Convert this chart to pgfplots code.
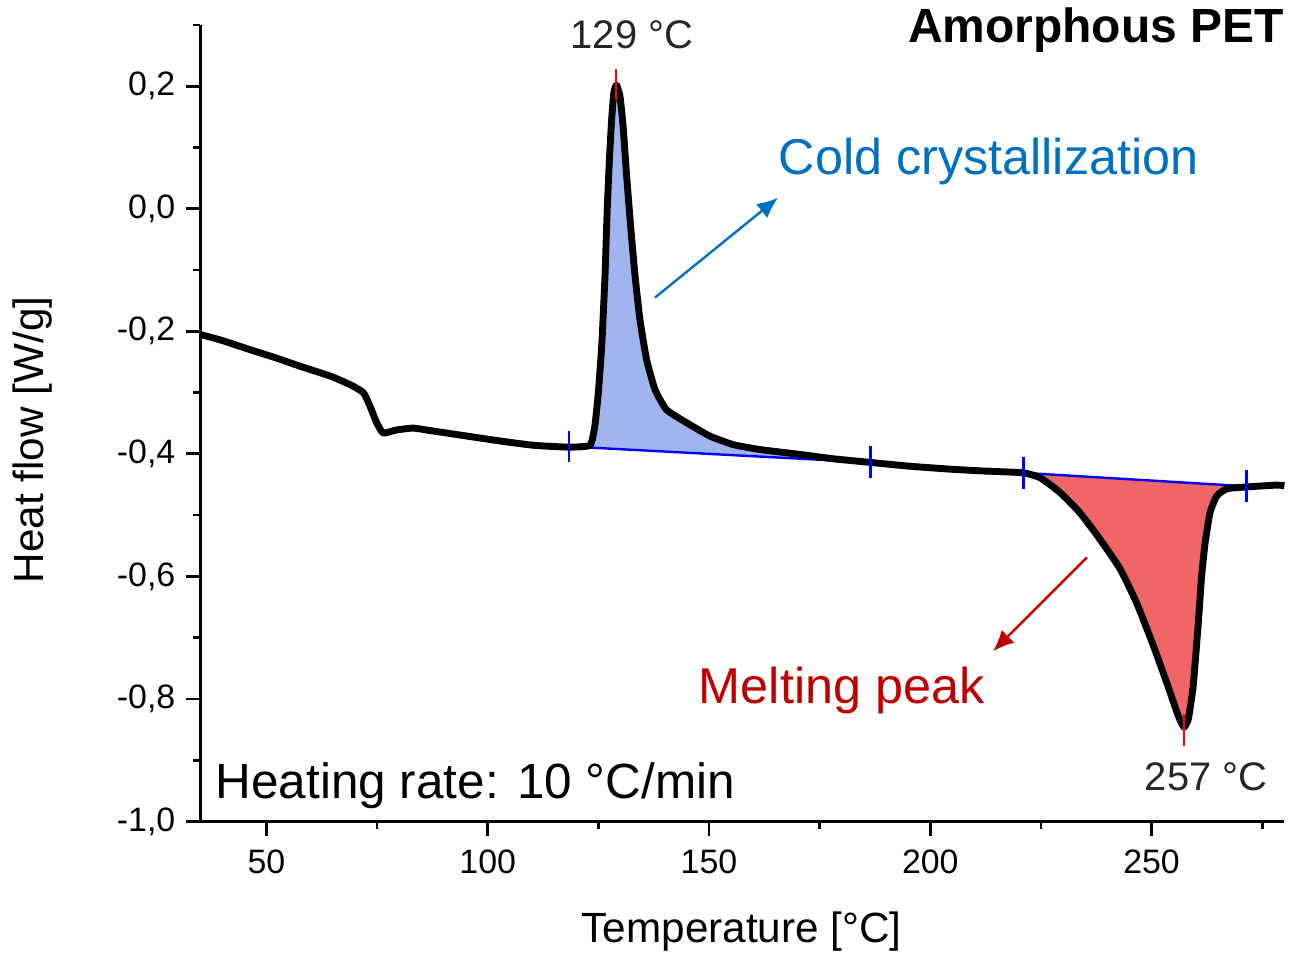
\documentclass[border=0pt]{standalone}
\usepackage{fontspec}
\setmainfont{Liberation Sans}
\usepackage{pgfplots}
\pgfplotsset{compat=1.18}
\usetikzlibrary{arrows.meta}

\definecolor{cryfill}{RGB}{160,180,240}
\definecolor{meltfill}{RGB}{240,102,102}
\definecolor{annblue}{RGB}{0,112,192}
\definecolor{annred}{RGB}{192,0,0}

\begin{document}
\begin{tikzpicture}
\begin{axis}[
    scale only axis,
    width=361.7pt, height=265.7pt,
    xmin=35, xmax=280, ymin=-1.0, ymax=0.3,
    axis lines*=left,
    axis line style={line width=1pt},
    xtick={50,100,150,200,250},
    ytick={-1,-0.8,-0.6,-0.4,-0.2,0,0.2},
    minor xtick={75,125,175,225,275},
    minor ytick={-0.9,-0.7,-0.5,-0.3,-0.1,0.1,0.3},
    tick align=outside,
    major tick length=4.7pt, minor tick length=2.5pt,
    every tick/.style={line width=0.9pt, black},
    ticklabel style={font=\fontsize{11.3}{13}\selectfont},
    xticklabel style={yshift=-1.2pt},
    /pgf/number format/assume math mode=true,
    yticklabel style={/pgf/number format/.cd, use comma, fixed, fixed zerofill, precision=1},
    xlabel={Temperature [°C]},
    ylabel={Heat flow [W/g]},
    xlabel style={font=\fontsize{14.1}{16}\selectfont, at={(axis description cs:0.4995,-0.138)}, anchor=center},
    ylabel style={font=\fontsize{14.1}{16}\selectfont, at={(axis description cs:-0.154,0.479)}, anchor=center},
    clip=false,
]
% frame of the reference picture
\path (axis cs:-10.19,0.3407) rectangle (axis cs:281.5,-1.2175);

% cold crystallization area
\addplot[draw=none, fill=cryfill, smooth, tension=0.3] coordinates {
    (118.4,-0.388)(123.1,-0.386)(124.2,-0.355)(125.0,-0.300)(125.8,-0.219)
    (126.5,-0.110)(127.0,-0.002)(127.5,0.080)(128.0,0.145)(128.5,0.189)
    (129.1,0.202)(129.9,0.183)(130.6,0.134)(131.4,0.053)(132.3,-0.029)
    (133.3,-0.110)(134.4,-0.181)(135.9,-0.246)(137.8,-0.295)(140.4,-0.328)
    (144.9,-0.349)(150.2,-0.371)(155.5,-0.385)(161.5,-0.393)(170.6,-0.401)
    (178,-0.408)(186.5,-0.414)
} --cycle;

% melting area
\addplot[draw=none, fill=meltfill, smooth, tension=0.3] coordinates {
    (221.0,-0.431)(224.8,-0.439)(229.3,-0.463)(233.8,-0.496)(238.3,-0.539)
    (242.9,-0.588)(246.6,-0.643)(250.4,-0.713)(253.4,-0.773)(256.0,-0.827)
    (257.3,-0.846)(258.3,-0.833)(259.4,-0.779)(260.5,-0.681)(261.3,-0.600)
    (262.1,-0.545)(263.2,-0.496)(264.7,-0.469)(267.0,-0.457)(271.5,-0.453)
} --cycle;

% baselines
\addplot[blue, line width=0.8pt] coordinates {
    (118.4,-0.388)(186.5,-0.414)(204.5,-0.425)(221.0,-0.431)(271.5,-0.453)
};

% DSC curve
\addplot[black, line width=2.3pt, line join=round, smooth, tension=0.3] coordinates {
    (35,-0.205)(40,-0.215)(46.3,-0.230)(52,-0.243)(57.6,-0.257)
    (64.4,-0.273)(68.9,-0.287)(71.9,-0.300)(73.4,-0.322)(74.9,-0.349)
    (76.4,-0.366)(79.4,-0.361)(83.2,-0.358)(87.0,-0.362)(90.7,-0.366)
    (95.3,-0.371)(102.8,-0.379)(110.3,-0.386)(118.2,-0.389)(123.1,-0.386)
    (124.2,-0.355)(125.0,-0.300)(125.8,-0.219)(126.5,-0.110)(127.0,-0.002)
    (127.5,0.080)(128.0,0.145)(128.5,0.189)(129.1,0.202)(129.9,0.183)
    (130.6,0.134)(131.4,0.053)(132.3,-0.029)(133.3,-0.110)(134.4,-0.181)
    (135.9,-0.246)(137.8,-0.295)(140.4,-0.328)(144.9,-0.349)(150.2,-0.371)
    (155.5,-0.385)(161.5,-0.393)(170.6,-0.401)(178,-0.408)(186.5,-0.414)
    (195,-0.420)(204.5,-0.425)(212,-0.428)(221.0,-0.431)(224.8,-0.439)
    (229.3,-0.463)(233.8,-0.496)(238.3,-0.539)(242.9,-0.588)(246.6,-0.643)
    (250.4,-0.713)(253.4,-0.773)(256.0,-0.827)(257.3,-0.846)(258.3,-0.833)
    (259.4,-0.779)(260.5,-0.681)(261.3,-0.600)(262.1,-0.545)(263.2,-0.496)
    (264.7,-0.469)(267.0,-0.457)(271.5,-0.454)(278.3,-0.451)(280,-0.452)
};

% integration limits
\addplot[blue, line width=0.9pt] coordinates {(118.4,-0.362)(118.4,-0.414)};
\addplot[blue, line width=0.9pt] coordinates {(186.5,-0.388)(186.5,-0.440)};
\addplot[blue, line width=0.9pt] coordinates {(221.0,-0.405)(221.0,-0.457)};
\addplot[blue, line width=0.9pt] coordinates {(271.5,-0.427)(271.5,-0.479)};

% peak markers
\addplot[red, line width=0.7pt] coordinates {(129.0,0.228)(129.0,0.178)};
\addplot[red, line width=0.7pt] coordinates {(257.3,-0.825)(257.3,-0.877)};

% annotations
\node[font=\fontsize{13.3}{15}\selectfont, text=black!85] at (axis cs:132.6,0.284) {129 °C};
\node[font=\fontsize{13.3}{15}\selectfont, text=black!85] at (axis cs:262.3,-0.927) {257 °C};
\node[font=\fontsize{16.5}{19}\selectfont, anchor=west, inner sep=0pt] at (axis cs:38.4,-0.942) {Heating rate: 10 °C/min};
\node[font=\bfseries\fontsize{16}{19}\selectfont, anchor=east, inner sep=0pt] at (axis cs:280,0.292) {Amorphous PET};

\draw[annblue, line width=0.8pt, -{Latex[length=7pt, width=6pt]}] (axis cs:137.8,-0.145) -- (axis cs:165.6,0.018);
\node[font=\fontsize{16.8}{19}\selectfont, text=annblue, anchor=west, inner sep=0pt] at (axis cs:165.6,0.077) {Cold crystallization};

\draw[annred, line width=0.8pt, -{Latex[length=7pt, width=6pt]}] (axis cs:235.4,-0.569) -- (axis cs:214.2,-0.722);
\node[font=\fontsize{16.8}{19}\selectfont, text=annred, anchor=center, inner sep=0pt] at (axis cs:180,-0.787) {Melting peak};
\end{axis}
\end{tikzpicture}
\end{document}
